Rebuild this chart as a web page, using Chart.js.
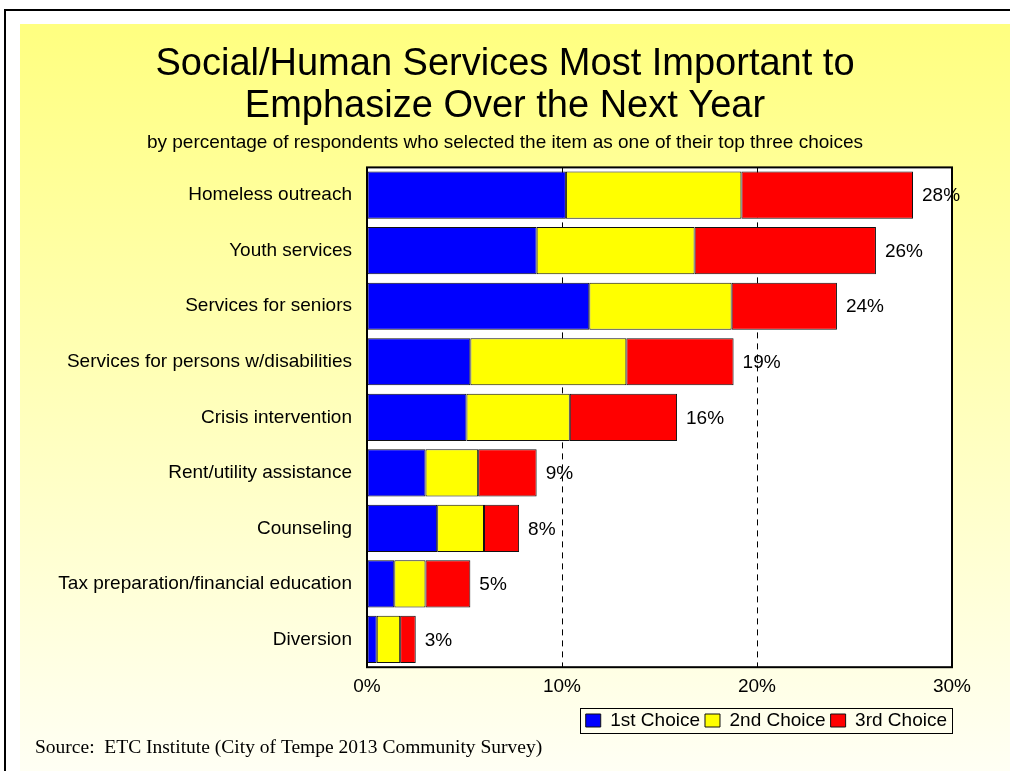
<!DOCTYPE html>
<html>
<head>
<meta charset="utf-8">
<script src="https://cdn.jsdelivr.net/npm/chart.js@4"></script>
<style>
  html, body { margin: 0; padding: 0; background: #fff; }
  canvas { display: block; }
</style>
</head>
<body>
<canvas id="servicesChart" width="1010" height="771"></canvas>
<script>
const services = [
  'Homeless outreach',
  'Youth services',
  'Services for seniors',
  'Services for persons w/disabilities',
  'Crisis intervention',
  'Rent/utility assistance',
  'Counseling',
  'Tax preparation/financial education',
  'Diversion'
];
const firstChoice = [10.2, 8.7, 11.4, 5.3, 5.1, 3.0, 3.6, 1.4, 0.5];
const secondChoice = [9.0, 8.1, 7.3, 8.0, 5.3, 2.7, 2.4, 1.6, 1.2];
const thirdChoice = [8.8, 9.3, 5.4, 5.5, 5.5, 3.0, 1.8, 2.3, 0.8];
const xTicks = [0, 10, 20, 30];

const FONT = 'Arial, "Liberation Sans", sans-serif';

// page background: outer frame lines + fading yellow panel, white plot area
const backdrop = {
  id: 'backdrop',
  beforeDraw(chart) {
    const { ctx, width, height, chartArea } = chart;
    ctx.save();
    ctx.fillStyle = '#fff';
    ctx.fillRect(0, 0, width, height);
    const grad = ctx.createLinearGradient(0, 24, 0, height);
    grad.addColorStop(0, '#ffff80');
    grad.addColorStop(1, '#fffff4');
    ctx.fillStyle = grad;
    ctx.fillRect(20, 24, width - 20, height - 24);
    ctx.strokeStyle = '#000';
    ctx.lineWidth = 2;
    ctx.beginPath();
    ctx.moveTo(5, height);
    ctx.lineTo(5, 10);
    ctx.lineTo(width, 10);
    ctx.stroke();
    ctx.fillStyle = '#fff';
    ctx.fillRect(chartArea.left, chartArea.top, chartArea.right - chartArea.left, chartArea.bottom - chartArea.top);
    ctx.restore();
  },
  afterDraw(chart) {
    const { ctx, chartArea, legend } = chart;
    ctx.save();
    // plot frame
    ctx.strokeStyle = '#000';
    ctx.lineWidth = 2;
    ctx.strokeRect(chartArea.left, chartArea.top, chartArea.right - chartArea.left, chartArea.bottom - chartArea.top);
    // box around legend items
    const boxes = legend.legendHitBoxes;
    if (boxes && boxes.length) {
      const x0 = Math.min(...boxes.map(b => b.left)) - 6;
      const x1 = Math.max(...boxes.map(b => b.left + b.width)) + 5;
      const y0 = Math.min(...boxes.map(b => b.top)) - 3;
      const y1 = Math.max(...boxes.map(b => b.top + b.height)) + 3;
      ctx.lineWidth = 1;
      ctx.strokeRect(Math.round(x0) + 0.5, Math.round(y0) + 0.5, Math.round(x1 - x0), Math.round(y1 - y0));
    }
    // source note
    ctx.fillStyle = '#000';
    ctx.font = '19.5px "Times New Roman", "Liberation Serif", serif';
    ctx.textBaseline = 'middle';
    ctx.textAlign = 'left';
    ctx.fillText('Source:  ETC Institute (City of Tempe 2013 Community Survey)', 35, 748);
    ctx.restore();
  }
};

// total percentage written after each stacked bar
const totals = {
  id: 'totals',
  afterDatasetsDraw(chart) {
    const { ctx } = chart;
    const last = chart.getDatasetMeta(chart.data.datasets.length - 1);
    ctx.save();
    ctx.fillStyle = '#000';
    ctx.font = '19px ' + FONT;
    ctx.textBaseline = 'middle';
    ctx.textAlign = 'left';
    last.data.forEach((bar, i) => {
      const sum = firstChoice[i] + secondChoice[i] + thirdChoice[i];
      ctx.fillText(Math.round(sum + 1e-9) + '%', bar.x + 9, bar.y + 1);
    });
    ctx.restore();
  }
};

const barStyle = { borderColor: '#111', borderWidth: 1, borderSkipped: false, barPercentage: 0.85, categoryPercentage: 1 };

new Chart(document.getElementById('servicesChart'), {
  type: 'bar',
  data: {
    labels: services,
    datasets: [
      { label: '1st Choice', data: firstChoice, backgroundColor: '#0000ff', ...barStyle },
      { label: '2nd Choice', data: secondChoice, backgroundColor: '#ffff00', ...barStyle },
      { label: '3rd Choice', data: thirdChoice, backgroundColor: '#ff0000', ...barStyle }
    ]
  },
  options: {
    indexAxis: 'y',
    responsive: false,
    animation: false,
    layout: { padding: { left: 58, right: 58, top: 0, bottom: 31 } },
    scales: {
      x: {
        stacked: true,
        min: 0,
        max: 30,
        afterBuildTicks: scale => { scale.ticks = xTicks.map(v => ({ value: v })); },
        ticks: { callback: v => v + '%', color: '#000', font: { family: FONT, size: 19 }, padding: 8 },
        grid: {
          drawTicks: false,
          color: c => (c.tick && (c.tick.value === 10 || c.tick.value === 20)) ? '#000' : 'rgba(0,0,0,0)',
          lineWidth: 1
        },
        border: { display: false, dash: [6, 5] }
      },
      y: {
        stacked: true,
        afterFit: scale => { scale.width = 309; },
        ticks: { color: '#000', font: { family: FONT, size: 19 }, padding: 15 },
        grid: { display: false, drawTicks: false },
        border: { display: false }
      }
    },
    plugins: {
      title: {
        display: true,
        text: ['Social/Human Services Most Important to', 'Emphasize Over the Next Year'],
        color: '#000',
        font: { family: FONT, size: 38, weight: 'normal', lineHeight: 1.1 },
        padding: { top: 44, bottom: 4 }
      },
      subtitle: {
        display: true,
        text: 'by percentage of respondents who selected the item as one of their top three choices',
        color: '#000',
        font: { family: FONT, size: 19, lineHeight: 1.2 },
        padding: { top: 0, bottom: 13 }
      },
      legend: {
        position: 'bottom',
        align: 'end',
        labels: {
          color: '#000',
          font: { family: FONT, size: 19 },
          boxWidth: 15,
          boxHeight: 13,
          padding: 5,
          useBorderRadius: false
        }
      },
      tooltip: { enabled: false }
    }
  },
  plugins: [backdrop, totals]
});
</script>
</body>
</html>
